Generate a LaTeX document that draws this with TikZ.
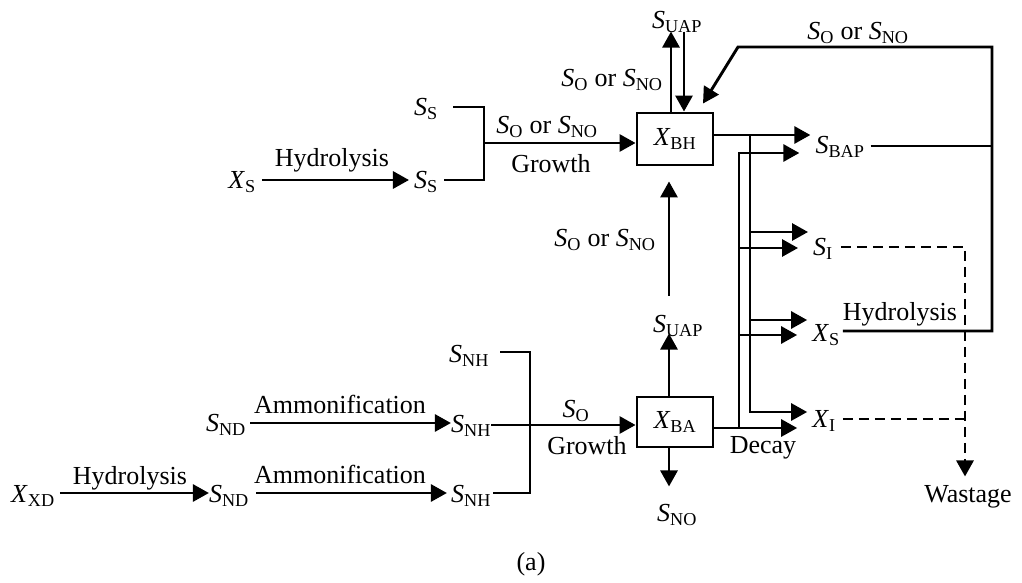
\documentclass[tikz,border=0pt]{standalone}
\usepackage{fontspec}
\setmainfont{Liberation Serif}
\usetikzlibrary{arrows.meta,calc}
\newcommand\sv[2]{\textit{#1}\textsubscript{#2}}
\begin{document}
\begin{tikzpicture}[x=1pt,y=-1pt,
  lbl/.style={font=\fontsize{26}{30}\selectfont, inner sep=0pt},
  ln/.style={line width=2.9pt},
  tipstyle/.style={-{Triangle[length=16pt,width=17pt]}},
  arr/.style={ln,tipstyle},
  boxnode/.style={draw,line width=2.9pt,minimum width=76pt,minimum height=52pt,inner sep=0pt,font=\fontsize{26}{30}\selectfont},
  dsh/.style={line width=2.9pt,dash pattern=on 10pt off 6pt}]
\useasboundingbox (0,0) rectangle (1022,583);

% ---------- text nodes ----------
\node[lbl] (XS1) at (242,182) {\sv{X}{S}};
\node[lbl] (hyd1) at (332,160) {Hydrolysis};
\node[lbl] (SSb) at (426,182) {\sv{S}{S}};
\node[lbl] (SSt) at (426,109) {\sv{S}{S}};
\node[boxnode] (BH) at (675,139) {\sv{X}{BH}};
\node[lbl] (g1) at (551,164) {Growth};
\node[lbl] (l1) at (547,127) {\sv{S}{O} or \sv{S}{NO}};
\node[lbl] (SUAP1) at (677,22) {\sv{S}{UAP}};
\node[lbl] (l2) at (612,80) {\sv{S}{O} or \sv{S}{NO}};
\node[lbl] (l3) at (858,33) {\sv{S}{O} or \sv{S}{NO}};
\node[lbl] (SBAP) at (840,147) {\sv{S}{BAP}};
\node[lbl] (SI) at (823,249) {\sv{S}{I}};
\node[lbl] (XS2) at (826,335) {\sv{X}{S}};
\node[lbl] (XI) at (824,421) {\sv{X}{I}};
\node[lbl] (hyd2) at (900,314) {Hydrolysis};
\node[lbl] (wst) at (968,497) {Wastage};
\node[lbl] (decay) at (763,448) {Decay};
\node[boxnode,minimum height=50pt] (BA) at (675,422) {\sv{X}{BA}};
\node[lbl] (SUAP2) at (678,326) {\sv{S}{UAP}};
\node[lbl] (SNO) at (677,515) {\sv{S}{NO}};
\node[lbl] (l4) at (605,240) {\sv{S}{O} or \sv{S}{NO}};
\node[lbl] (l5) at (576,411) {\sv{S}{O}};
\node[lbl] (g2) at (587,446) {Growth};
\node[lbl] (SNHt) at (469,356) {\sv{S}{NH}};
\node[lbl] (SNHm) at (471,426) {\sv{S}{NH}};
\node[lbl] (SNHb) at (471,496) {\sv{S}{NH}};
\node[lbl] (SNDm) at (226,425) {\sv{S}{ND}};
\node[lbl] (am1) at (340,404) {Ammonification};
\node[lbl] (XXD) at (33,496) {\sv{X}{XD}};
\node[lbl] (hyd3) at (130,478) {Hydrolysis};
\node[lbl] (SNDb) at (229,496) {\sv{S}{ND}};
\node[lbl] (am2) at (340,474) {Ammonification};
\node[lbl] (cap) at (531,564) {(a)};

% ---------- junction coordinates ----------
\coordinate (j0) at (484,107);
\coordinate (j1) at (484,143);
\coordinate (j2) at (484,180);
\coordinate (a1) at (750,135);
\coordinate (a2) at (750,412);
\coordinate (a3) at (750,232);
\coordinate (a4) at (750,320);
\coordinate (b1) at (739,153);
\coordinate (b2) at (739,428);
\coordinate (b3) at (739,248);
\coordinate (b4) at (739,335);
\coordinate (c1) at (738,47);
\coordinate (c2) at (992,47);
\coordinate (c3) at (992,331);
\coordinate (c4) at (992,146);
\coordinate (d1) at (965,247);
\coordinate (d2) at (965,419);
\coordinate (k1) at (530,352);
\coordinate (k2) at (530,493);
\coordinate (k3) at (530,425);

% ---------- top-left (heterotrophs) ----------
\draw[arr] ($(XS1.east)+(6,-2)$) -- ($(SSb.west)+(-5,-2)$);
\draw[ln] ($(SSt.east |- j0)+(15,0)$) -- (j0) -- (j2) -- ($(SSb.east |- j2)+(6,0)$);
\draw[arr] (j1) -- (BH.west |- j1);
\draw[arr] ($(BH.north)+(-4,0)$) -- ($(BH.north)+(-4,-80)$);
\draw[arr] ($(BH.north)+(9,-80)$) -- ($(BH.north)+(9,0)$);
\draw[arr] ($(XS2.east |- c3)+(3,0)$) -- (c3) -- (c2) -- (c1) -- ($(BH.north)+(28,-8)$);
\draw[ln] ($(SBAP.east |- c4)+(6,0)$) -- (c4);

% ---------- decay buses ----------
\draw[arr] (BH.east |- a1) -- ($(SBAP.west |- a1)+(-5,0)$);
\draw[arr] (a1) -- (a2) -- ($(XI.west |- a2)+(-5,0)$);
\draw[arr] (a3) -- ($(SI.west |- a3)+(-5,0)$);
\draw[arr] (a4) -- ($(XS2.west |- a4)+(-5,0)$);
\draw[arr] (BA.east |- b2) -- ($(XI.west |- b2)+(-15,0)$);
\draw[arr] (b2) -- (b1) -- ($(SBAP.west |- b1)+(-16,0)$);
\draw[arr] (b3) -- ($(SI.west |- b3)+(-15,0)$);
\draw[arr] (b4) -- ($(XS2.west |- b4)+(-15,0)$);

% ---------- wastage ----------
\draw[dsh,tipstyle] ($(SI.east |- d1)+(8,0)$) -- (d1) -- ($(d1 |- wst.north)+(0,-9)$);
\draw[dsh] ($(XI.east |- d2)+(7,0)$) -- (d2);

% ---------- autotrophs ----------
\draw[arr] ($(XXD.east)+(5,-3)$) -- ($(SNDb.west)+(0,-3)$);
\draw[arr] ($(SNDb.east)+(7,-3)$) -- ($(SNHb.west)+(-4,-3)$);
\draw[arr] ($(SNDm.east)+(4,-2)$) -- ($(SNHm.west)+(0,-3)$);
\draw[ln] ($(SNHt.east |- k1)+(11,0)$) -- (k1) -- (k2) -- ($(SNHb.east |- k2)+(2,0)$);
\draw[arr] (SNHm.east |- k3) -- (BA.west |- k3);
\draw[arr] ($(BA.north)+(-6,0)$) -- ($(BA.north)+(-6,-62)$);
\draw[arr] ($(BA.south)+(-6,0)$) -- ($(BA.south)+(-6,38)$);
\draw[arr] ($(BA.north)+(-6,-100)$) -- ($(BH.south)+(-6,15)$);
\end{tikzpicture}
\end{document}
